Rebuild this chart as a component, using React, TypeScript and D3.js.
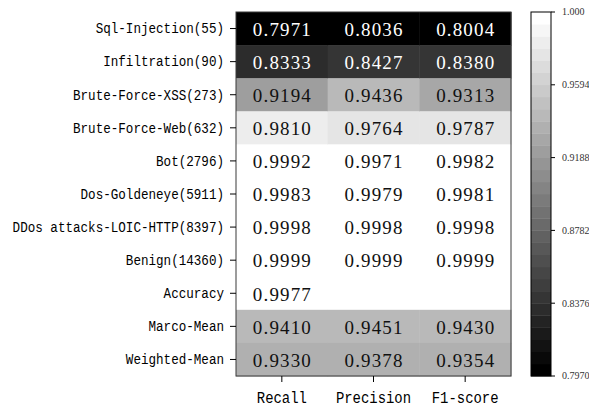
import React from "react";
import * as d3 from "d3";

const rows = [
  "Sql-Injection(55)",
  "Infiltration(90)",
  "Brute-Force-XSS(273)",
  "Brute-Force-Web(632)",
  "Bot(2796)",
  "Dos-Goldeneye(5911)",
  "DDos attacks-LOIC-HTTP(8397)",
  "Benign(14360)",
  "Accuracy",
  "Marco-Mean",
  "Weighted-Mean",
];
const columns = ["Recall", "Precision", "F1-score"];
const recall = [0.7971, 0.8333, 0.9194, 0.981, 0.9992, 0.9983, 0.9998, 0.9999, 0.9977, 0.941, 0.933];
const precision = [0.8036, 0.8427, 0.9436, 0.9764, 0.9971, 0.9979, 0.9998, 0.9999, null, 0.9451, 0.9378];
const f1score = [0.8004, 0.838, 0.9313, 0.9787, 0.9982, 0.9981, 0.9998, 0.9999, null, 0.943, 0.9354];
const colorbarTicks = [1.0, 0.9594, 0.9188, 0.8782, 0.8376, 0.797];
const colorbarTickLabels = ["1.000", "0.9594", "0.9188", "0.8782", "0.8376", "0.7970"];
const vmin = 0.797;
const vmax = 1.0;
const nBands = 30;

const series = [recall, precision, f1score];

export default function App() {
  const W = 589;
  const H = 407;
  const x = d3.scaleBand<string>().domain(columns).range([236, 511]);
  const y = d3.scaleBand<string>().domain(rows).range([12, 376]);
  const cb = d3.scaleLinear().domain([vmin, vmax]).range([376, 12]);
  const cbX0 = 531;
  const cbX1 = 551;

  const bandIndex = (v: number) => {
    const t = (v - vmin) / (vmax - vmin);
    return Math.max(0, Math.min(nBands - 1, Math.floor(t * nBands)));
  };
  const bandColor = (k: number) => {
    const g = Math.round((k / (nBands - 1)) * 255);
    return `rgb(${g},${g},${g})`;
  };

  const cells: React.ReactNode[] = [];
  const labels: React.ReactNode[] = [];
  columns.forEach((c, ci) => {
    rows.forEach((r, ri) => {
      const v = series[ci][ri];
      const x0 = x(c)!;
      const y0 = y(r)!;
      if (v === null || v === undefined) {
        cells.push(
          <rect key={`c${ci}-${ri}`} x={x0} y={y0} width={x.bandwidth()} height={y.bandwidth()} fill="#ffffff" />
        );
        return;
      }
      const k = bandIndex(v);
      cells.push(
        <rect key={`c${ci}-${ri}`} x={x0} y={y0} width={x.bandwidth() + 0.5} height={y.bandwidth() + 0.5} fill={bandColor(k)} />
      );
      labels.push(
        <text
          key={`t${ci}-${ri}`}
          x={x0 + x.bandwidth() / 2}
          y={y0 + y.bandwidth() / 2 + 7.3}
          textAnchor="middle"
          fontFamily="'Liberation Serif', serif"
          fontSize={19}
          textLength={58}
          lengthAdjust="spacing"
          fill={k < 15 ? "#ffffff" : "#111111"}
        >
          {v.toFixed(4)}
        </text>
      );
    });
  });

  const bandH = (cb(vmin) - cb(vmax)) / nBands;
  const bands = d3.range(nBands).map((k) => (
    <rect
      key={`b${k}`}
      x={cbX0}
      y={cb(vmin) - (k + 1) * bandH}
      width={cbX1 - cbX0}
      height={bandH + 0.4}
      fill={bandColor(k)}
    />
  ));

  return (
    <svg width={W} height={H} style={{ position: "absolute", left: 0, top: 0, background: "#fff" }}>
      {cells}
      {labels}
      <rect x={236} y={12} width={275} height={364} fill="none" stroke="#3a3a3a" strokeWidth={1} />
      {rows.map((r) => {
        const cy = y(r)! + y.bandwidth() / 2;
        return (
          <g key={`yl-${r}`}>
            <line x1={230} x2={236} y1={cy} y2={cy} stroke="#000" strokeWidth={1} />
            <text
              x={224}
              y={cy + 4.8}
              textAnchor="end"
              fontFamily="'Liberation Mono', monospace"
              fontSize={14}
              textLength={r.length * 7.55}
              lengthAdjust="spacingAndGlyphs"
              fill="#000"
            >
              {r}
            </text>
          </g>
        );
      })}
      {columns.map((c) => {
        const cx = x(c)! + x.bandwidth() / 2;
        return (
          <g key={`xl-${c}`}>
            <line x1={cx} x2={cx} y1={376} y2={382} stroke="#000" strokeWidth={1} />
            <text
              x={cx}
              y={402.5}
              textAnchor="middle"
              fontFamily="'Liberation Mono', monospace"
              fontSize={16}
              textLength={c.length * 8.35}
              lengthAdjust="spacingAndGlyphs"
              fill="#000"
            >
              {c}
            </text>
          </g>
        );
      })}
      {bands}
      <rect x={cbX0} y={12} width={cbX1 - cbX0} height={364} fill="none" stroke="#000" strokeWidth={1} />
      {colorbarTicks.map((t, i) => (
        <g key={`cbt${i}`}>
          <line x1={cbX1} x2={cbX1 + 4} y1={cb(t)} y2={cb(t)} stroke="#000" strokeWidth={1} />
          <text
            x={cbX1 + 11}
            y={cb(t) + 3.3}
            fontFamily="'Liberation Serif', serif"
            fontSize={10}
            fill="#333"
          >
            {colorbarTickLabels[i]}
          </text>
        </g>
      ))}
    </svg>
  );
}
